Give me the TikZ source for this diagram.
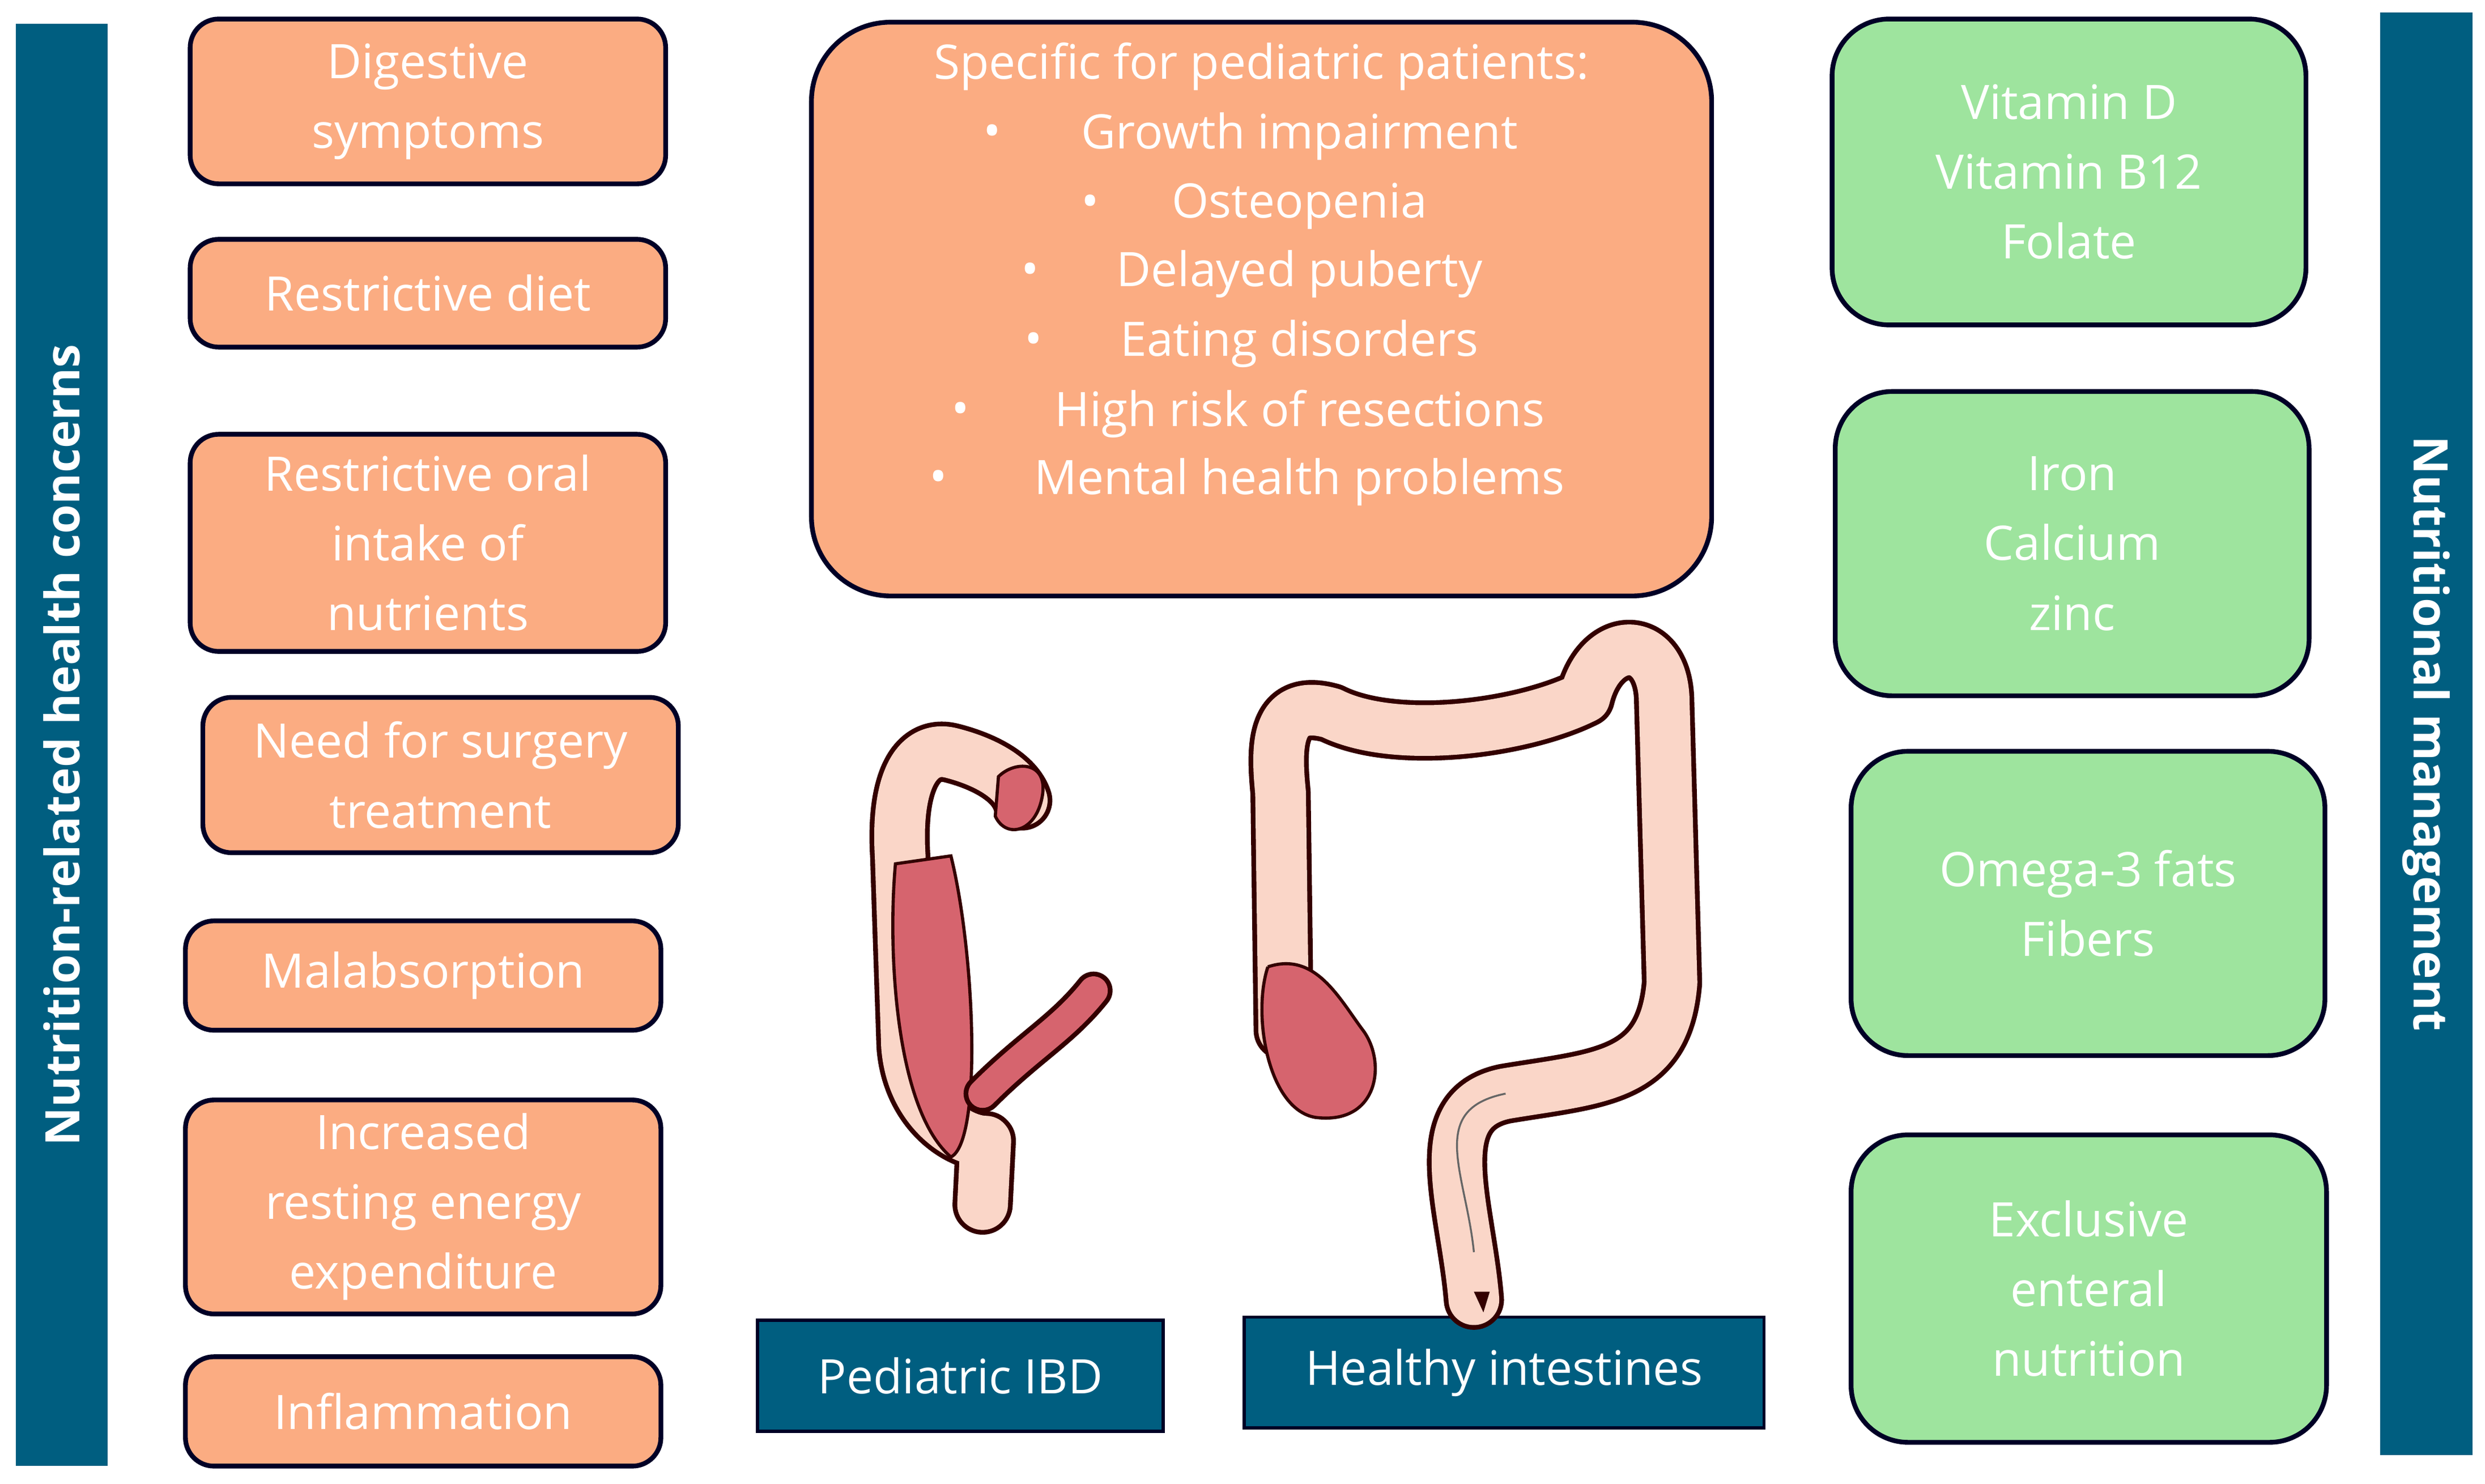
\documentclass[tikz,border=0pt]{standalone}
\usepackage{fontspec}
\setmainfont{Open Sans}
\begin{document}
\begin{tikzpicture}[x=0.5pt,y=-0.5pt,
  ob/.style={draw=black!85!blue,line width=1.5pt,fill=orangeb,rounded corners=9pt},
  gb/.style={draw=black!85!blue,line width=1.5pt,fill=greenb,rounded corners=18pt},
  bar/.style={fill=teal0},
  lbl/.style={draw=black!85!blue,line width=1pt,fill=teal0,text=white},
  tx/.style={text=white,align=center,font=\fontsize{15}{22}\selectfont},
  outl/.style={line width=19pt,draw=black!80!red,line cap=round,line join=round},
  inn/.style={line width=16pt,draw=pinkc,line cap=round,line join=round}]
\definecolor{orangeb}{RGB}{251,172,130}
\definecolor{greenb}{RGB}{158,228,158}
\definecolor{teal0}{RGB}{0,94,128}
\definecolor{pinkc}{RGB}{250,214,200}
\definecolor{redc}{RGB}{214,100,110}
\useasboundingbox (0,0) rectangle (1568,936);
\fill[white] (0,0) rectangle (1568,936);
% side bars
\node[bar,minimum width=29pt,minimum height=455pt,inner sep=0] (lb) at (39,470) {};
\node[rotate=90,text=white,font=\fontsize{15}{18}\selectfont\bfseries] (lbt) at (lb) {Nutrition-related health concerns};
\node[bar,minimum width=29pt,minimum height=455pt,inner sep=0] (rb) at (1531,463) {};
\node[rotate=-90,text=white,font=\fontsize{15}{18}\selectfont\bfseries] (rbt) at (rb) {Nutritional management};
% orange boxes
\newcommand{\obox}[6]{\draw[ob] (#1,#2) rectangle (#3,#4); \node[tx] (#5) at ({(#1+#3)/2},{(#2+#4)/2}) {#6};}
\obox{120}{12}{420}{116}{o1}{Digestive\\symptoms}
\obox{120}{151}{420}{219}{o2}{Restrictive diet}
\obox{120}{274}{420}{411}{o3}{Restrictive oral\\intake of\\nutrients}
\obox{128}{440}{428}{538}{o4}{Need for surgery\\treatment}
\obox{117}{581}{417}{650}{o5}{Malabsorption}
\obox{117}{694}{417}{829}{o6}{Increased\\resting energy\\expenditure}
\obox{117}{856}{417}{925}{o7}{Inflammation}
% big box
\draw[ob,rounded corners=25pt] (512,14) rectangle (1080,376);
\node[tx] (t0) at (796,42) {Specific for pediatric patients:};
\node[tx] (t1) at (820,86) {Growth impairment};
\node[tx] (t2) at (820,130) {Osteopenia};
\node[tx] (t3) at (820,173) {Delayed puberty};
\node[tx] (t4) at (820,217) {Eating disorders};
\node[tx] (t5) at (820,261) {High risk of resections};
\node[tx] (t6) at (820,304) {Mental health problems};
\foreach \x/\y/\n in {626/86/1,688/130/2,650/173/3,652/217/4,606/261/5,592/304/6}
  \node[tx] (b\n) at (\x,\y) {•};
% green boxes
\newcommand{\gbox}[6]{\draw[gb] (#1,#2) rectangle (#3,#4); \node[tx] (#5) at ({(#1+#3)/2},{(#2+#4)/2}) {#6};}
\gbox{1156}{12}{1455}{205}{g1}{Vitamin D\\Vitamin B12\\Folate}
\gbox{1158}{247}{1457}{439}{g2}{Iron\\Calcium\\zinc}
\gbox{1168}{474}{1467}{666}{g3}{Omega-3 fats\\Fibers}
\gbox{1168}{716}{1468}{910}{g4}{Exclusive\\enteral\\nutrition}
% labels
\node[lbl,minimum width=128pt,minimum height=35pt,font=\fontsize{15}{18}\selectfont] (l1) at (606,868) {Pediatric IBD};
\node[lbl,minimum width=164pt,minimum height=35pt,font=\fontsize{15}{18}\selectfont] (l2) at (949,866) {Healthy intestines};
% healthy colon
\def\hcolon{(930,820) .. controls (925,760) and (900,700) .. (950,690) .. controls (1010,680) and (1050,680) .. (1055,620) -- (1050,440) .. controls (1048,400) and (1010,400) .. (1000,440) .. controls (960,460) and (880,470) .. (840,450) .. controls (805,440) and (805,470) .. (808,500) -- (810,650)}
\draw[outl] \hcolon; \draw[inn] \hcolon;
\draw[black!60,line width=0.6pt] (930,790) .. controls (925,740) and (900,700) .. (950,690);
\fill[redc,draw=black!80!red,line width=1pt] (800,610) .. controls (790,640) and (800,700) .. (830,705) .. controls (870,710) and (875,670) .. (860,650) .. controls (845,630) and (830,600) .. (800,610);
\fill[black!80!red] (930,815) -- (940,815) -- (936,828) -- cycle;
% IBD colon
\def\icolon{(620,760) -- (622,720) .. controls (605,720) and (575,700) .. (572,660) -- (568,540) .. controls (565,490) and (580,470) .. (600,475) .. controls (620,480) and (640,490) .. (645,505)}
\draw[outl] \icolon; \draw[inn] \icolon;
\fill[redc,draw=black!80!red,line width=1pt] (565,545) .. controls (560,600) and (565,700) .. (600,730) .. controls (620,720) and (615,600) .. (600,540) -- cycle;
\draw[outl,line width=12pt] (620,690) .. controls (650,660) and (670,650) .. (690,625);
\draw[inn,line width=9pt,draw=redc] (620,690) .. controls (650,660) and (670,650) .. (690,625);
\fill[redc,draw=black!80!red,line width=1pt] (630,490) .. controls (640,480) and (660,480) .. (658,500) .. controls (655,525) and (635,530) .. (628,515) -- cycle;
\end{tikzpicture}
\end{document}
